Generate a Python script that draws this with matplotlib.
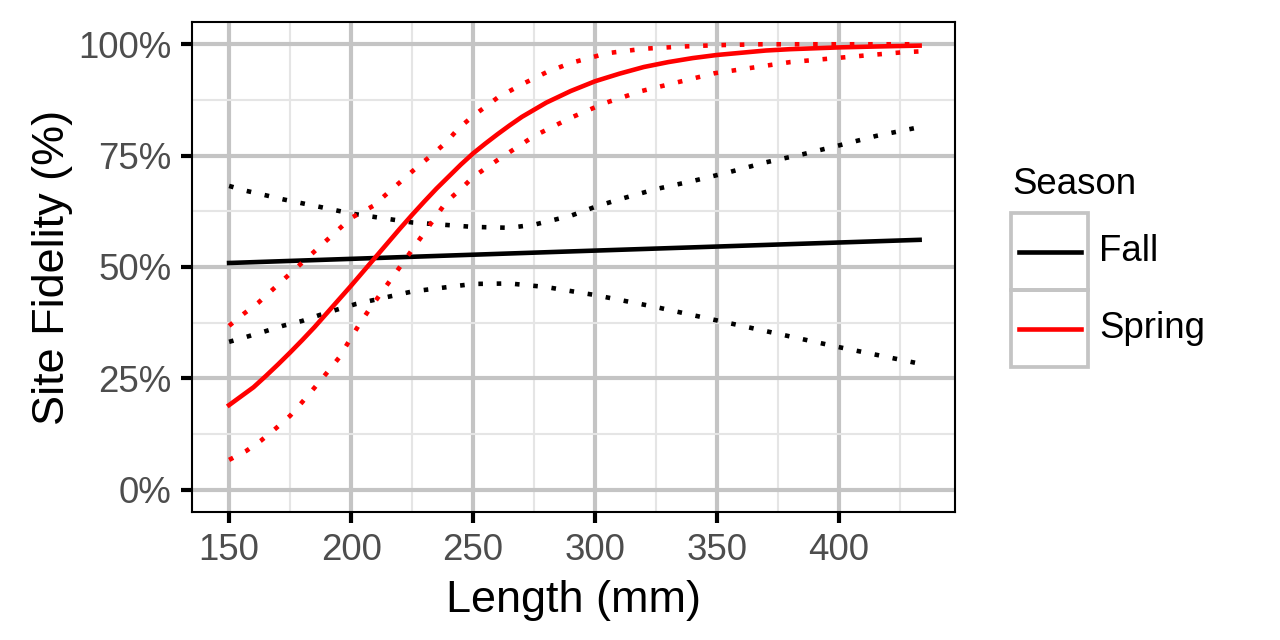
import numpy as np
import matplotlib
matplotlib.use('Agg')
import matplotlib.pyplot as plt
from matplotlib.patches import Rectangle
from matplotlib.lines import Line2D

plt.rcParams['font.family'] = ['Liberation Sans', 'DejaVu Sans']

# data (length in mm, fidelity as fraction)
fall_fit_x = [150, 290, 433]
fall_fit_y = [0.509, 0.535, 0.561]

fall_hi_x = [150, 157, 165, 172, 180, 188, 200, 225, 250, 265, 275, 290, 300, 310, 325, 340, 355, 370, 385, 400, 415, 433]
fall_hi_y = [0.682, 0.671, 0.661, 0.652, 0.643, 0.634, 0.62, 0.60, 0.59, 0.588, 0.595, 0.615, 0.635, 0.652, 0.675, 0.693, 0.713, 0.735, 0.753, 0.773, 0.794, 0.814]

fall_lo_x = [150, 157, 165, 172, 180, 187, 194, 202, 225, 250, 265, 280, 300, 325, 350, 375, 400, 433]
fall_lo_y = [0.332, 0.343, 0.356, 0.368, 0.379, 0.392, 0.404, 0.417, 0.445, 0.462, 0.463, 0.455, 0.437, 0.41, 0.38, 0.35, 0.32, 0.283]

spring_fit_x = [150, 155, 160, 165, 170, 175, 180, 185, 190, 195, 200, 205, 210, 215, 220, 225, 230, 235, 240, 245, 250,
                255, 260, 265, 270, 275, 280, 285, 290, 295, 300, 310, 320, 330, 340, 350, 360, 370, 380, 390, 400, 415, 433]
spring_fit_y = [0.19, 0.21, 0.23, 0.255, 0.281, 0.308, 0.336, 0.365, 0.396, 0.427, 0.458, 0.49, 0.522, 0.554, 0.586, 0.617,
                0.647, 0.676, 0.703, 0.73, 0.755, 0.777, 0.798, 0.818, 0.837, 0.853, 0.869, 0.882, 0.895, 0.906, 0.917,
                0.934, 0.949, 0.96, 0.969, 0.976, 0.981, 0.986, 0.989, 0.991, 0.993, 0.995, 0.997]

spring_hi_x = [150, 156, 162, 170, 180, 190, 200, 209, 215, 221, 227, 233, 239, 244, 250, 260, 270, 280, 290, 305, 320, 336, 350, 368, 400, 433]
spring_hi_y = [0.368, 0.395, 0.42, 0.46, 0.51, 0.56, 0.61, 0.637, 0.666, 0.695, 0.724, 0.751, 0.78, 0.811, 0.839, 0.88, 0.91, 0.937, 0.958, 0.98, 0.99, 0.995, 0.998, 1.0, 1.0, 1.0]

spring_lo_x = [150, 157, 163, 169, 175, 180, 185, 190, 195, 199, 203, 207, 220, 230, 239, 245, 250, 260, 275, 290, 304, 319, 349, 380, 411, 426, 433]
spring_lo_y = [0.067, 0.087, 0.11, 0.137, 0.166, 0.197, 0.229, 0.262, 0.296, 0.332, 0.368, 0.401, 0.50, 0.577, 0.646, 0.675, 0.702, 0.74, 0.794, 0.835, 0.868, 0.895, 0.935, 0.96, 0.975, 0.982, 0.984]

x_ticks = [150, 200, 250, 300, 350, 400]
y_ticks = [0, 0.25, 0.5, 0.75, 1.0]
y_labels = ['0%', '25%', '50%', '75%', '100%']
seasons = ['Fall', 'Spring']
colors = {'Fall': 'black', 'Spring': '#ff0000'}

W, H = 1280, 640
fig = plt.figure(figsize=(W / 300, H / 300), dpi=300)
ax = fig.add_axes([192 / W, 1 - 512 / H, (955 - 192) / W, (512 - 22) / H])

lw = 1.1
dot = dict(dashes=(1, 3), dash_capstyle='butt')
ax.plot(fall_fit_x, fall_fit_y, color=colors['Fall'], lw=lw, zorder=3)
ax.plot(fall_hi_x, fall_hi_y, color=colors['Fall'], lw=lw, zorder=3, **dot)
ax.plot(fall_lo_x, fall_lo_y, color=colors['Fall'], lw=lw, zorder=3, **dot)
ax.plot(spring_fit_x, spring_fit_y, color=colors['Spring'], lw=lw, zorder=3)
ax.plot(spring_hi_x, spring_hi_y, color=colors['Spring'], lw=lw, zorder=3, **dot)
ax.plot(spring_lo_x, spring_lo_y, color=colors['Spring'], lw=lw, zorder=3, **dot)

ax.set_xlim(134.8, 447.5)
ax.set_ylim(-0.05, 1.05)
ax.set_xticks(x_ticks)
ax.set_yticks(y_ticks)
ax.set_yticklabels(y_labels)
ax.set_xticks(np.arange(175, 450, 50), minor=True)
ax.set_yticks([0.125, 0.375, 0.625, 0.875], minor=True)

ax.grid(which='major', color='#c4c4c4', lw=1.0)
ax.grid(which='minor', color='#e5e5e5', lw=0.5)
ax.set_axisbelow(True)
ax.tick_params(which='major', length=2.75, width=1.0, color='black',
               labelsize=8.8, labelcolor='#4d4d4d', pad=2.2)
ax.tick_params(which='minor', length=0)
for s in ax.spines.values():
    s.set_linewidth(0.5)
    s.set_color('black')

ax.set_xlabel('Length (mm)', fontsize=10.8, labelpad=3)
ax.set_ylabel('Site Fidelity (%)', fontsize=10.8, labelpad=1.2)

# legend drawn by hand to get the ggplot style key boxes
def fx(px):
    return px / W

def fy(py):
    return 1 - py / H

fig.text(fx(1012), fy(184), 'Season', fontsize=8.8, va='center', ha='left')
for i, s in enumerate(seasons):
    top = 213 + i * 77
    fig.add_artist(Rectangle((fx(1011), fy(top + 77)), fx(77), 77 / H,
                             transform=fig.transFigure, fill=False,
                             edgecolor='#c4c4c4', lw=0.9))
    yc = top + 38.5
    fig.add_artist(Line2D([fx(1019), fx(1081)], [fy(yc), fy(yc)],
                          transform=fig.transFigure, color=colors[s], lw=lw))
    fig.text(fx(1099), fy(yc), s, fontsize=8.8, va='center', ha='left')

fig.savefig('out.png', dpi=300)
